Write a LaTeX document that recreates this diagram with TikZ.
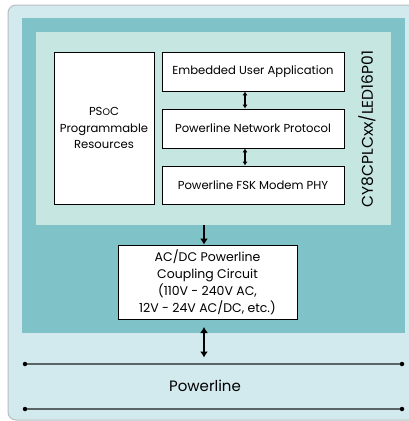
\documentclass[tikz,border=0pt]{standalone}
\usepackage{fontspec}
\setmainfont{Poppins}
\usetikzlibrary{arrows.meta}
\definecolor{outerbg}{HTML}{D2EAEE}
\definecolor{tealbg}{HTML}{7FC3C8}
\definecolor{innerbg}{HTML}{C5E6E1}
\definecolor{bordergray}{HTML}{B8BEC0}
\definecolor{linegray}{HTML}{5A6466}
\tikzset{
  blockbox/.style={draw=black, line width=0.8pt, fill=white, inner sep=0pt, align=center},
  lbl/.style={font=\fontsize{11.6}{16.5}\selectfont},
  arr/.style={-{Latex[length=6pt,width=8pt]}, line width=2pt},
  darr/.style={{Latex[length=4pt,width=5pt]}-{Latex[length=4pt,width=5pt]}, line width=1.3pt},
  bigdarr/.style={{Latex[length=6pt,width=8pt]}-{Latex[length=6pt,width=8pt]}, line width=2.4pt},
  wire/.style={draw=linegray, line width=1.2pt},
  dot/.style={circle, fill=black, inner sep=0pt, minimum size=4.5pt}
}
\begin{document}
\begin{tikzpicture}[x=1pt,y=-1pt]
\clip (0,0) rectangle (409,421);
\fill[white] (0,0) rectangle (409,421);
% outer light panel
\draw[bordergray, fill=outerbg, line width=1pt, rounded corners=8pt] (8,5) rectangle (430,420);
% teal panel
\fill[tealbg] (22,18) rectangle (405,333);
% inner light panel
\fill[innerbg] (36,32) rectangle (391,225);
\coordinate (innerbot) at (204,225);
% blocks
\node[blockbox, minimum width=100pt, minimum height=152pt, lbl] (psoc) at (104,128) {PS{\fontsize{9.5}{11}\selectfont O}C\\Programmable\\Resources};
\node[blockbox, minimum width=182pt, minimum height=39pt, lbl] (app) at (253,71.5) {Embedded User Application};
\node[blockbox, minimum width=182pt, minimum height=39pt, lbl] (net) at (253,128.5) {Powerline Network Protocol};
\node[blockbox, minimum width=182pt, minimum height=38pt, lbl] (phy) at (253,185) {Powerline FSK Modem PHY};
\node[rotate=90, font=\fontsize{15.5}{17}\selectfont] (chip) at (367,129) {CY8CPLCxx/LED16P01};
\draw[darr] (app.south -| 245,0) -- (net.north -| 245,0);
\draw[darr] (net.south -| 245,0) -- (phy.north -| 245,0);
% coupling circuit
\node[blockbox, minimum width=179pt, minimum height=74pt, font=\fontsize{12.5}{17}\selectfont] (cc) at (207.5,282) {AC/DC Powerline\\Coupling Circuit\\(110V - 240V AC,\\12V - 24V AC/DC, etc.)};
\draw[arr] (innerbot) -- (innerbot |- cc.north);
% powerline
\node[dot] (l1a) at (25,364) {};
\node[dot] (l1b) at (402,364) {};
\node[dot] (l2a) at (25,409) {};
\node[dot] (l2b) at (402,409) {};
\draw[wire] (l1a) -- (l1b);
\draw[wire] (l2a) -- (l2b);
\node[font=\fontsize{15}{17}\selectfont] (pl) at (205,386) {Powerline};
\coordinate (cctop) at (204,327);
\coordinate (ccbot) at (204,357.5);
\draw[bigdarr] (cctop) -- (ccbot);
\end{tikzpicture}
\end{document}
